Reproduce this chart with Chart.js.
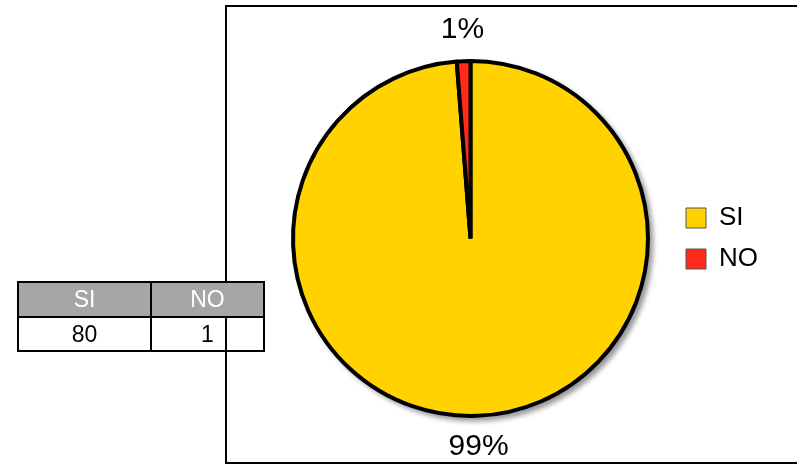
<!DOCTYPE html>
<html>
<head>
<meta charset="utf-8">
<script src="https://cdn.jsdelivr.net/npm/chart.js@4.4.0/dist/chart.umd.min.js"></script>
<style>
    html, body { margin: 0; padding: 0; background: #fff; }
    body { width: 797px; height: 468px; position: relative; overflow: hidden; font-family: "Liberation Sans", Arial, sans-serif; }
    #frame { position: absolute; left: 225px; top: 5px; width: 620px; height: 455px; border: 2px solid #000; }
    #chartWrap { position: absolute; left: 0; top: 0; width: 797px; height: 468px; }
    #dataTable { position: absolute; left: 17px; top: 281px; border-collapse: collapse; font-size: 23px; }
    #dataTable td { border: 2px solid #000; text-align: center; padding: 0; }
    #dataTable tr.head td { background: #a6a6a6; color: #fff; height: 33px; }
    #dataTable tr.vals td { color: #000; height: 32px; }
</style>
</head>
<body>
<div id="frame"></div>
<div id="chartWrap"><canvas id="pieChart" width="797" height="468"></canvas></div>
<table id="dataTable"></table>
<script>
    var categories = ['SI', 'NO'];
    var values = [80, 1];
    var sliceColors = ['#ffd200', '#ff2a1a'];

    var total = values.reduce(function (a, b) { return a + b; }, 0);

    // small table with the raw counts
    var buildTable = function () {
        var table = document.getElementById('dataTable');
        var head = document.createElement('tr');
        head.className = 'head';
        var vals = document.createElement('tr');
        vals.className = 'vals';
        var widths = [131, 111];
        for (var i = 0; i < categories.length; i++) {
            var th = document.createElement('td');
            th.textContent = categories[i];
            th.style.width = widths[i] + 'px';
            head.appendChild(th);
            var td = document.createElement('td');
            td.textContent = values[i];
            vals.appendChild(td);
        }
        table.appendChild(head);
        table.appendChild(vals);
    };

    // soft grey shadow under the pie
    var pieShadow = {
        id: 'pieShadow',
        beforeDatasetsDraw: function (chart) {
            var arc = chart.getDatasetMeta(0).data[0];
            if (!arc) return;
            var ctx = chart.ctx;
            ctx.save();
            ctx.shadowColor = 'rgba(0,0,0,0.4)';
            ctx.shadowBlur = 5;
            ctx.shadowOffsetX = 4;
            ctx.shadowOffsetY = 4;
            ctx.fillStyle = '#fff';
            ctx.beginPath();
            ctx.arc(arc.x, arc.y, arc.outerRadius + 1.5, 0, Math.PI * 2);
            ctx.fill();
            ctx.restore();
        }
    };

    // percentage labels outside each slice
    var percentLabels = {
        id: 'percentLabels',
        afterDatasetsDraw: function (chart) {
            var ctx = chart.ctx;
            var meta = chart.getDatasetMeta(0);
            ctx.save();
            ctx.font = '30px "Liberation Sans", Arial, sans-serif';
            ctx.fillStyle = '#000';
            ctx.textAlign = 'center';
            ctx.textBaseline = 'middle';
            meta.data.forEach(function (arc, i) {
                var mid = (arc.startAngle + arc.endAngle) / 2;
                var r = arc.outerRadius + 31;
                var pct = Math.round(values[i] / total * 100) + '%';
                ctx.fillText(pct, arc.x + Math.cos(mid) * r, arc.y + Math.sin(mid) * r);
            });
            ctx.restore();
        }
    };

    buildTable();

    new Chart(document.getElementById('pieChart'), {
        type: 'pie',
        data: {
            labels: categories,
            datasets: [{
                data: values,
                backgroundColor: sliceColors,
                borderColor: '#000',
                borderWidth: 4
            }]
        },
        options: {
            responsive: false,
            animation: false,
            layout: {
                padding: { left: 270, right: 29, top: 59, bottom: 50 }
            },
            plugins: {
                tooltip: { enabled: false },
                legend: {
                    position: 'right',
                    labels: {
                        boxWidth: 20,
                        boxHeight: 20,
                        padding: 15,
                        color: '#000',
                        font: { family: '"Liberation Sans", Arial, sans-serif', size: 26 },
                        generateLabels: function (chart) {
                            return categories.map(function (c, i) {
                                return {
                                    text: c,
                                    fillStyle: sliceColors[i],
                                    strokeStyle: '#555',
                                    lineWidth: 1,
                                    index: i
                                };
                            });
                        }
                    }
                }
            }
        },
        plugins: [pieShadow, percentLabels]
    });
</script>
</body>
</html>
